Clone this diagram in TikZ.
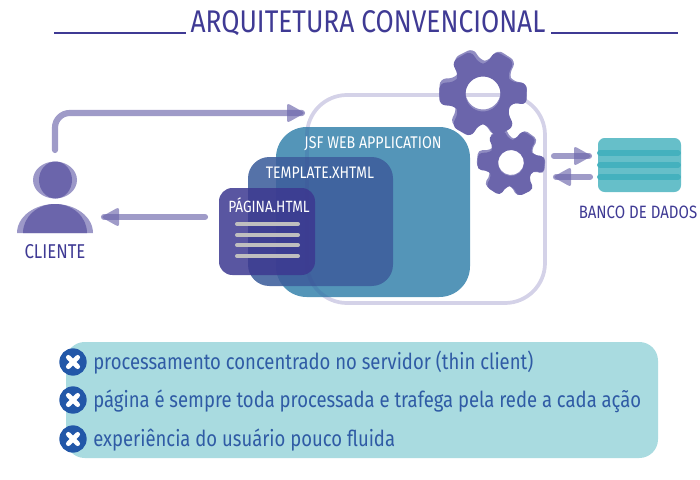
\documentclass[tikz,border=0pt]{standalone}
\usepackage{fontspec}
\setmainfont{Fira Sans}[FakeStretch=0.84]
\usetikzlibrary{calc}
\definecolor{ink}{HTML}{3F3A94}
\definecolor{flowc}{HTML}{6B65AB}
\definecolor{gearc}{HTML}{6B65AB}
\definecolor{gearl}{HTML}{908CC2}
\definecolor{framec}{HTML}{E6E4F2}
\definecolor{jsfc}{HTML}{458CB2}
\definecolor{tplc}{HTML}{3E5E9C}
\definecolor{pagec}{HTML}{3C3890}
\definecolor{panelc}{HTML}{A9DBE0}
\definecolor{bulletc}{HTML}{2257A8}
\definecolor{bullett}{HTML}{2F5BA5}
\definecolor{dbc}{HTML}{66BFC9}
\definecolor{dbs}{HTML}{44B1BE}
\definecolor{clientl}{HTML}{9C98C8}
\newcommand{\gearbody}[7]{% cx cy outer root hole rot corner
  \begin{scope}[shift={(#1,#2)},rotate=#6]
  \fill[even odd rule,rounded corners=#7]
    (16:#4)
    -- (36:#4) -- (46:#3) -- (74:#3) -- (84:#4)
    -- (96:#4) -- (106:#3) -- (134:#3) -- (144:#4)
    -- (156:#4) -- (166:#3) -- (194:#3) -- (204:#4)
    -- (216:#4) -- (226:#3) -- (254:#3) -- (264:#4)
    -- (276:#4) -- (286:#3) -- (314:#3) -- (324:#4)
    -- (336:#4) -- (346:#3) -- (14:#3) -- cycle
    [sharp corners] (0,0) circle (#5);
  \end{scope}}
\newcommand{\flowtipr}[1]{\fill[flowtip,rounded corners=2pt] ($(#1)+(-15,-10)$) -- ($(#1)+(3,0)$) -- ($(#1)+(-15,10)$) -- cycle;}
\newcommand{\flowtipl}[1]{\fill[flowtip,rounded corners=2pt] ($(#1)+(15,-10)$) -- ($(#1)+(-3,0)$) -- ($(#1)+(15,10)$) -- cycle;}
\tikzset{
  x=0.75pt,y=-0.75pt,
  rulel/.style={draw=ink,line width=1.9pt},
  flowline/.style={draw=flowc,opacity=0.65,line width=4.6pt,line cap=round,rounded corners=11pt},
  flowtip/.style={fill=flowc,opacity=0.65},
  lab/.style={inner sep=0,text=ink},
  boxlab/.style={inner sep=0,text=white},
  bul/.style={inner sep=0,anchor=west,text=bullett,font=\fontsize{16.5}{17}\selectfont},
  xicon/.style={circle,fill=bulletc,minimum size=20.5pt,inner sep=0},
  xmark/.style={draw=white,line width=3.5pt,line cap=round},
  docl/.style={draw=black!25,line width=3pt,line cap=round},
}
\begin{document}
\begin{tikzpicture}
\useasboundingbox (0,0) rectangle (700,479);
% title
\node[inner sep=0,text=ink,font=\fontsize{23.5}{24}\selectfont] (title) at (368,23) {ARQUITETURA CONVENCIONAL};
\coordinate (tl1) at (54,33); \coordinate (tl2) at (186,33);
\coordinate (tr1) at (551,33); \coordinate (tr2) at (678,33);
\draw[rulel] (tl1) -- (tl2);
\draw[rulel] (tr1) -- (tr2);
% frame
\draw[framec,line width=2.8pt,rounded corners=30pt] (307,95) rectangle (545,303);
\coordinate (webIn) at (302,113);
% boxes
\fill[jsfc,opacity=.92,rounded corners=23pt] (276,127) rectangle (470,297);
\fill[tplc,opacity=.88,rounded corners=16pt] (248,157) rectangle (393,286);
\fill[pagec,opacity=.85,rounded corners=10pt] (219,188) rectangle (315,275);
\draw[pagec,opacity=.1,line width=2.8pt,rounded corners=30pt] (307,95) rectangle (545,303);
\node[boxlab,font=\fontsize{12.7}{13}\selectfont] (jsf) at (373,144) {JSF WEB APPLICATION};
\node[boxlab,font=\fontsize{12.5}{13}\selectfont] (tpl) at (320,173) {TEMPLATE.XHTML};
\node[boxlab,font=\fontsize{12.2}{13}\selectfont] (pag) at (269,205) {PÁGINA.HTML};
\foreach \yy in {224,235,245,256}{\draw[docl] (237,\yy) -- (298,\yy);}
% gears
\begin{scope}[gearl]
\gearbody{483}{92}{45}{31}{17.5}{-3}{4.5pt}
\gearbody{511}{162}{35}{23.5}{13}{-6}{3.2pt}
\end{scope}
\begin{scope}[gearc]
\gearbody{483}{94}{45}{30}{17.5}{0}{4.5pt}
\gearbody{511}{163}{34.5}{23}{13}{-3}{3.2pt}
\end{scope}
% client
\fill[clientl] (55,180) ellipse (22 and 18.5);
\fill[gearc] (55.5,180) ellipse (16.5 and 18.5);
\fill[clientl] (17,233) arc[start angle=180,end angle=360,x radius=38,y radius=29] -- cycle;
\fill[gearc] (23,233) arc[start angle=180,end angle=360,x radius=32,y radius=29] -- cycle;
\node[lab,font=\fontsize{15}{16}\selectfont] (cliente) at (55,252) {CLIENTE};
\coordinate (clientUp) at (55,150);
\coordinate (clientIn) at (104,217);
\coordinate (pageOut) at (205,217);
% flows
\draw[flowline] (clientUp) |- (webIn);
\flowtipr{webIn}
\draw[flowline] (pageOut) -- (clientIn);
\flowtipl{clientIn}
% database
\coordinate (dbIn) at (589,156); \coordinate (gearOut) at (554,156);
\coordinate (dbOut) at (590,177); \coordinate (gearIn) at (556,177);
\draw[flowline] (gearOut) -- (dbIn);
\flowtipr{dbIn}
\draw[flowline] (dbOut) -- (gearIn);
\flowtipl{gearIn}
\fill[dbc,rounded corners=5pt] (598,138) rectangle (681,192);
\foreach \yy in {153,165,177}{\draw[dbs,line width=4.3pt,line cap=round] (600,\yy) -- (678,\yy);}
\node[lab,font=\fontsize{13.4}{14}\selectfont] (banco) at (638,212) {BANCO DE DADOS};
% panel
\fill[panelc,rounded corners=14pt] (66,342) rectangle (658,458);
\foreach \n/\yy/\tx in {a/362/{processamento concentrado no servidor (thin client)},b/400/{página é sempre toda processada e trafega pela rede a cada ação},c/439/{experiência do usuário pouco fluida}}{
  \node[xicon] (icon\n) at (73,\yy) {};
  \draw[xmark] ($(icon\n)+(-4.7,-4.7)$) -- ($(icon\n)+(4.7,4.7)$);
  \draw[xmark] ($(icon\n)+(-4.7,4.7)$) -- ($(icon\n)+(4.7,-4.7)$);
  \node[bul] (txt\n) at (93,\yy+1) {\tx};
}
\end{tikzpicture}
\end{document}
